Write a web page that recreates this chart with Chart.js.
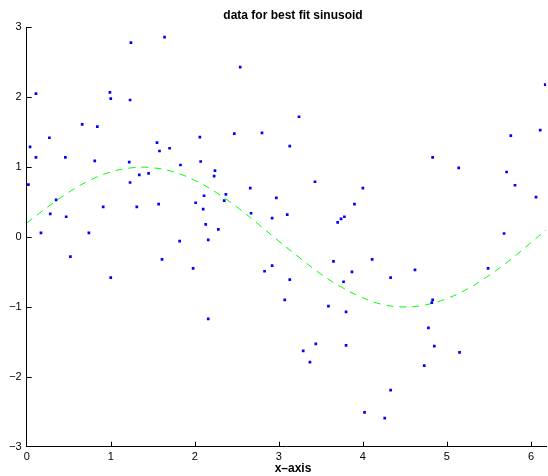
<!DOCTYPE html>
<html>
<head>
<meta charset="utf-8">
<script src="https://cdn.jsdelivr.net/npm/chart.js@4"></script>
<style>
  body { margin: 0; background: #fff; }
  canvas { display: block; }
</style>
</head>
<body>
<canvas id="fitChart" width="548" height="476"></canvas>
<script>
// noisy samples
const pointX = [0.04, 0.02, 0.11, 0.11, 0.27, 0.17, 0.28, 0.35, 0.46, 0.47, 0.66, 0.74, 0.84, 0.81, 0.91, 0.99, 1.00, 1.24, 1.23, 1.22, 1.23, 1.31, 1.34, 1.45, 1.64, 1.55, 1.58, 1.70, 1.57,
  0.52, 1.00, 1.61, 1.82, 2.54, 2.06, 1.83, 2.07, 2.24, 2.23, 2.47, 2.80, 3.24, 3.13, 3.43, 3.90, 2.11, 2.01, 2.10, 2.37, 2.35, 2.66, 2.97, 2.67, 2.92, 3.10, 2.13, 2.28, 3.70, 3.74, 3.78, 2.16,
  1.98, 2.16, 2.83, 2.92, 3.13, 3.07, 3.65, 3.77, 3.87, 3.59, 3.80, 3.44, 3.29, 3.37, 3.80,
  6.17, 6.11, 5.76, 4.83, 5.14, 5.71, 5.81, 6.06, 4.00, 5.68,
  4.11, 4.33, 4.62, 5.49, 4.83, 4.82, 4.78, 4.85, 5.15, 4.73, 4.33, 4.02, 4.26];
const pointY = [1.29, 0.75, 2.05, 1.14, 1.42, 0.06, 0.33, 0.53, 1.14, 0.29, 1.61, 0.06, 1.58, 1.09, 0.43, 2.07, 1.98, 2.78, 1.96, 1.07, 0.78, 0.43, 0.89, 0.91, 2.86, 1.35, 1.23, 1.27, 0.47,
  -0.28, -0.58, -0.32, -0.06, 2.43, 1.43, 1.03, 1.08, 0.95, 0.87, 1.48, 1.49, 1.72, 1.30, 0.79, 0.47, 0.59, 0.49, 0.40, 0.61, 0.52, 0.70, 0.56, 0.34, 0.27, 0.32, 0.18, 0.11, 0.21, 0.26, 0.29, -0.04,
  -0.45, -1.17, -0.49, -0.41, -0.61, -0.90, -0.35, -0.64, -0.50, -0.99, -1.07, -1.53, -1.63, -1.79, -1.55,
  2.18, 1.53, 1.45, 1.14, 0.99, 0.93, 0.74, 0.57, 0.70, 0.05,
  -0.32, -0.58, -0.47, -0.45, -0.90, -0.94, -1.30, -1.56, -1.65, -1.84, -2.19, -2.51, -2.59];

// fitted curve
const curveX = [0, 0.25, 0.5, 0.75, 1, 1.25, 1.5, 1.75, 2, 2.25, 2.5, 2.75, 3, 3.25, 3.5, 3.75, 4, 4.25, 4.5, 4.75, 5, 5.25, 5.5, 5.75, 6, 6.25];
const curveY = [0.20, 0.43, 0.64, 0.81, 0.93, 0.99, 0.99, 0.93, 0.81, 0.64, 0.43, 0.19, -0.06, -0.30, -0.53, -0.72, -0.87, -0.97, -1.00, -0.97, -0.88, -0.74, -0.55, -0.33, -0.08, 0.17];

const yTicks = [-3, -2, -1, 0, 1, 2, 3];
const xTicks = [0, 1, 2, 3, 4, 5, 6];

const titleText = 'data for best fit sinusoid';
const xTitleText = 'x\u2013axis';

const FONT = "'Liberation Sans', Arial, Helvetica, sans-serif";

// matlab style ticks pointing into the plot + titles centred on the full axes
const matlabBits = {
  id: 'matlabBits',
  afterDraw(chart) {
    const {ctx, chartArea, scales} = chart;
    ctx.save();
    ctx.strokeStyle = '#000';
    ctx.lineWidth = 1;
    ctx.beginPath();
    scales.x.ticks.forEach(t => {
      if (t.value === scales.x.min) return;
      const px = Math.round(scales.x.getPixelForValue(t.value)) + 0.5;
      ctx.moveTo(px, chartArea.bottom);
      ctx.lineTo(px, chartArea.bottom - 5);
    });
    scales.y.ticks.forEach(t => {
      if (t.value === scales.y.min) return;
      const py = Math.round(scales.y.getPixelForValue(t.value)) + 0.5;
      ctx.moveTo(chartArea.left, py);
      ctx.lineTo(chartArea.left + 5, py);
    });
    ctx.stroke();

    ctx.fillStyle = '#000';
    ctx.font = 'bold 12px ' + FONT;
    ctx.textAlign = 'center';
    ctx.textBaseline = 'alphabetic';
    ctx.fillText(titleText, 293, 19);
    ctx.fillText(xTitleText, 293, 472);
    ctx.restore();
  }
};

const ctx = document.getElementById('fitChart').getContext('2d');
new Chart(ctx, {
  type: 'scatter',
  data: {
    datasets: [{
      data: pointX.map((x, i) => ({x: x, y: pointY[i]})),
      backgroundColor: '#0000ff',
      borderColor: '#0000ff',
      borderWidth: 0,
      pointStyle: 'rect',
      pointRadius: 1.9,
      pointHoverRadius: 1.9
    }, {
      type: 'line',
      data: curveX.map((x, i) => ({x: x, y: curveY[i]})),
      borderColor: '#00ff00',
      borderWidth: 1,
      borderDash: [7, 6],
      pointRadius: 0,
      tension: 0.4,
      fill: false
    }]
  },
  options: {
    responsive: false,
    animation: false,
    layout: { padding: { top: 27.3, left: 0, right: 0, bottom: 0 } },
    plugins: {
      legend: { display: false },
      tooltip: { enabled: false },
      title: { display: false }
    },
    scales: {
      x: {
        type: 'linear',
        min: 0,
        max: 6.18,
        afterFit: s => { s.height = 29.3; },
        afterBuildTicks: s => { s.ticks = xTicks.map(v => ({value: v})); },
        grid: { display: false, drawTicks: false },
        border: { display: true, color: '#000', width: 1 },
        ticks: {
          includeBounds: false,
          padding: 4,
          color: '#000',
          font: { family: FONT, size: 11 },
          maxRotation: 0
        }
      },
      y: {
        min: -3,
        max: 3,
        afterFit: s => { s.width = 26.7; },
        afterBuildTicks: s => { s.ticks = yTicks.map(v => ({value: v})); },
        grid: { display: false, drawTicks: false },
        border: { display: true, color: '#000', width: 1 },
        ticks: {
          padding: 5,
          color: '#000',
          font: { family: FONT, size: 11 },
          callback: v => String(v).replace('-', '\u2212')
        }
      }
    }
  },
  plugins: [matlabBits]
});
</script>
</body>
</html>
